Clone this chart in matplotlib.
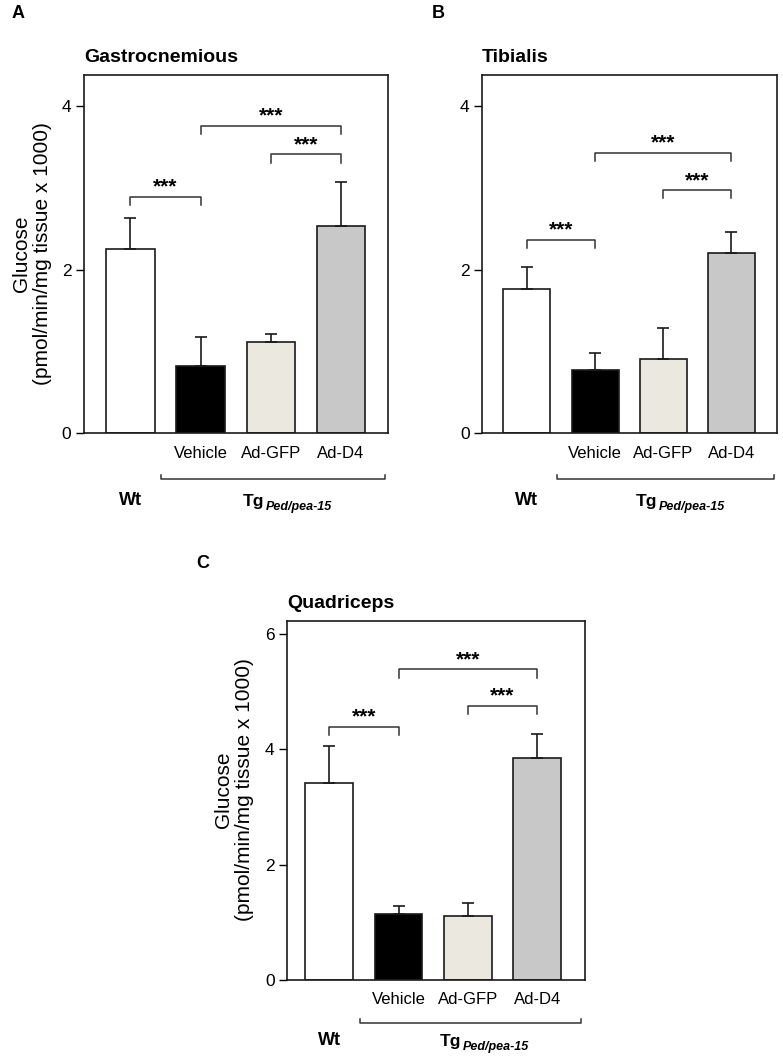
import numpy as np
import matplotlib
matplotlib.use("Agg")
import matplotlib.pyplot as plt
import matplotlib.transforms as mtransforms

plt.rcParams['font.family'] = ['Liberation Sans', 'DejaVu Sans']

# dados
groups = ["Wt", "Vehicle", "Ad-GFP", "Ad-D4"]
bar_colors = ["white", "black", "#ebe9df", "#c8c8c8"]

gastro_mean = [2.25, 0.82, 1.11, 2.53]
gastro_sem = [0.38, 0.36, 0.10, 0.54]
tibialis_mean = [1.76, 0.77, 0.90, 2.20]
tibialis_sem = [0.27, 0.21, 0.38, 0.26]
quad_mean = [3.42, 1.14, 1.11, 3.84]
quad_sem = [0.64, 0.14, 0.23, 0.43]

# comparações (barra i, barra j, altura do colchete)
gastro_sig = [(0, 1, 2.89), (1, 3, 3.76), (2, 3, 3.41)]
tibialis_sig = [(0, 1, 2.36), (1, 3, 3.43), (2, 3, 2.97)]
quad_sig = [(0, 1, 4.39), (1, 3, 5.38), (2, 3, 4.75)]

W, H = 783, 1057
fig = plt.figure(figsize=(W / 100, H / 100), dpi=100)

INK = "#1a1a1a"


def px_rect(left, right, top, bottom):
    return [left / W, 1 - bottom / H, (right - left) / W, (bottom - top) / H]


def painel(rect, title, mean, sem, sig, ymax, yticks, ylabel=True,
           yb=-0.128, ytxt=-0.188):
    ax = fig.add_axes(rect)
    x = np.arange(len(groups))
    ax.bar(x, mean, width=0.69, color=bar_colors, edgecolor=INK, linewidth=1.2, zorder=2)
    ax.errorbar(x, mean, yerr=[np.zeros(len(sem)), sem], fmt='none', ecolor=INK,
                elinewidth=1.2, capsize=4.5, capthick=1.2, zorder=3)
    ax.set_xlim(-0.66, 3.67)
    ax.set_ylim(0, ymax)
    ax.set_yticks(yticks)
    ax.tick_params(axis='y', direction='out', length=6, width=1, labelsize=12.5, pad=3)
    ax.set_xticks(x[1:], groups[1:])
    ax.tick_params(axis='x', length=0, labelsize=12, pad=9)
    for s in ax.spines.values():
        s.set_linewidth(1.2)
        s.set_color(INK)

    # colchetes de significância
    h = 0.023 * ymax
    for i, j, y in sig:
        ax.plot([i, i, j, j], [y - h, y, y, y - h], color="#333333", lw=1.1)
        ax.annotate("***", xy=((i + j) / 2, y), xytext=(0, 7), textcoords='offset points',
                    ha='center', va='center', fontsize=15, fontweight='bold')

    # grupo Tg e rótulo Wt abaixo do eixo
    tr = mtransforms.blended_transform_factory(ax.transData, ax.transAxes)
    ax.plot([0.44, 0.44, 3.63, 3.63], [yb + 0.012, yb, yb, yb + 0.012], color="#333333",
            lw=1.1, transform=tr, clip_on=False)
    ax.text(0, ytxt, "Wt", transform=tr, ha='center', va='center',
            fontsize=13, fontweight='bold')
    t = ax.text(1.6, ytxt - 0.003, "Tg", transform=tr, ha='left', va='center',
                fontsize=12.5, fontweight='bold')
    ax.annotate("Ped/pea-15", xy=(1, 0.1), xycoords=t, ha='left', va='center',
                xytext=(1, 0), textcoords='offset points',
                fontsize=9, fontweight='bold', style='italic')

    ax.text(0, 1.05, title, transform=ax.transAxes, ha='left', va='center',
            fontsize=14, fontweight='bold')
    if ylabel:
        ax.set_ylabel("Glucose\n(pmol/min/mg tissue x 1000)", fontsize=15, linespacing=1.15)
        ax.yaxis.set_label_coords(-0.105, 0.5)
    return ax


painel(px_rect(84, 388, 75, 433), "Gastrocnemious", gastro_mean, gastro_sem, gastro_sig,
       4.38, [0, 2, 4])
painel(px_rect(482, 777, 75, 433), "Tibialis", tibialis_mean, tibialis_sem, tibialis_sig,
       4.38, [0, 2, 4], ylabel=False)
axc = painel(px_rect(287, 585, 621, 980), "Quadriceps", quad_mean, quad_sem, quad_sig,
             6.22, [0, 2, 4, 6], yb=-0.12, ytxt=-0.168)
axc.set_xlim(-0.61, 3.69)
axc.yaxis.set_label_coords(-0.11, 0.53)

fig.text(12 / W, 1 - 13 / H, "A", fontsize=13, fontweight='bold', ha='left', va='center')
fig.text(432 / W, 1 - 13 / H, "B", fontsize=13, fontweight='bold', ha='left', va='center')
fig.text(196 / W, 1 - 563 / H, "C", fontsize=13, fontweight='bold', ha='left', va='center')

fig.savefig("out.png", dpi=100)
